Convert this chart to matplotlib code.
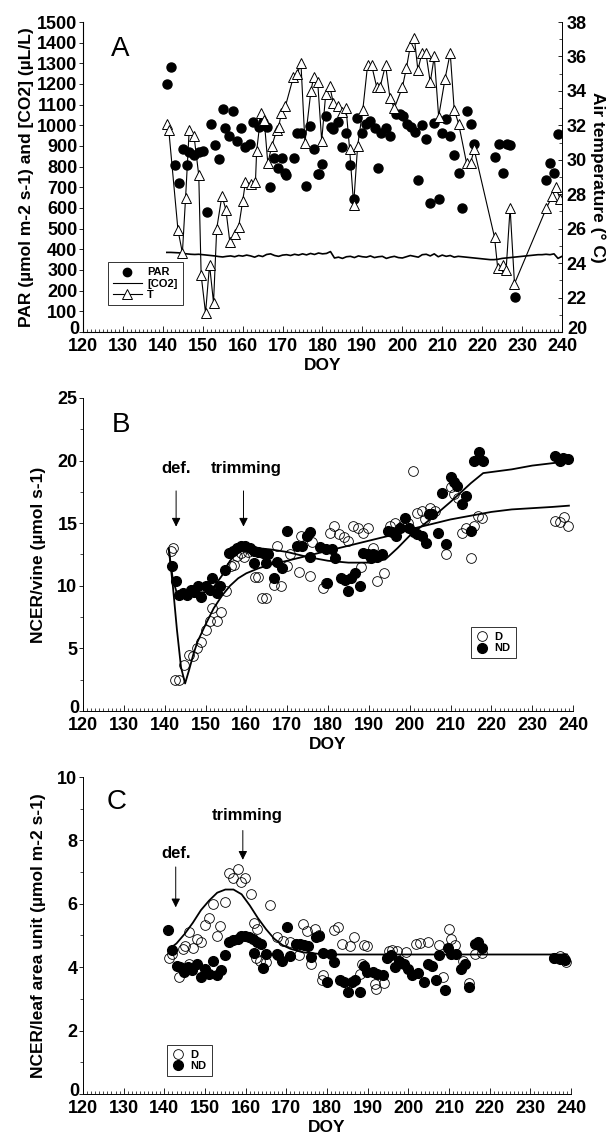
import matplotlib
matplotlib.use("Agg")
import matplotlib.pyplot as plt
from matplotlib.ticker import MultipleLocator, FuncFormatter
from matplotlib.lines import Line2D
from matplotlib.transforms import offset_copy

plt.rcParams['font.family'] = ['Liberation Sans', 'DejaVu Sans']
plt.rcParams['font.weight'] = 'bold'

# ---------------- panel A data ----------------
par_doy = [141, 142, 143, 144, 145, 146, 146.6, 147.8, 149, 150, 151, 152, 153, 154, 155,
           155.6, 156.6, 157.6, 158.5, 159.7, 160.5, 161.8, 162.6, 164, 165, 166, 166.8,
           167.8, 168.8, 169.8, 170.7, 170.9, 172.9, 173.7, 174.6, 175.8, 176.9, 177.8,
           178.8, 179, 179.8, 181, 182.1, 182.7, 183.9, 184.9, 185.9, 186.8, 187.8, 188.6,
           189.8, 190.9, 192, 193.1, 193.9, 194.6, 195.8, 196.9, 198.3, 199.5, 200.2,
           201.2, 202.1, 203.1, 203.9, 204.9, 206, 206.9, 208, 209.1, 209.9, 210.9, 212,
           213, 214.1, 215, 216.1, 217.1, 218, 223.1, 224.2, 225.2, 226.1, 227.1, 228.3,
           236.1, 237, 238, 239.1]
par_val = [1200, 1280, 810, 720, 885, 810, 870, 855, 870, 875, 580, 1005, 905, 835, 1080,
           985, 950, 1070, 925, 985, 895, 910, 1015, 990, 1015, 990, 700,
           840, 795, 840, 770, 760, 840, 965, 965, 705, 995, 885,
           765, 765, 815, 1045, 990, 980, 1015, 895, 965, 810, 645, 1035,
           965, 1005, 1020, 985, 795, 965, 985, 950, 1055, 1055, 1045,
           1005, 990, 970, 735, 1000, 935, 625, 1010, 645, 965, 1030, 950,
           855, 770, 600, 1070, 1005, 910, 845, 910, 770, 910, 905, 170,
           735, 820, 770, 960]

co2_doy = list(range(141, 241))
co2_val = [385, 385, 384, 383, 380, 378, 376, 375, 376, 374,
           372, 370, 368, 365, 363, 366, 368, 364, 370, 367,
           372, 368, 362, 370, 365, 375, 378, 370, 366, 372,
           374, 370, 376, 372, 378, 373, 380, 375, 382, 378,
           380, 389, 358, 362, 356, 364, 366, 360, 368, 364,
           362, 368, 360, 364, 366, 356, 362, 366, 360, 358,
           364, 370, 366, 362, 374, 376, 368, 378, 364, 372,
           366, 370, 362, 366, 364, 362, 360, 358, 356, 354,
           352, 350, 350, 352, 356, 358, 360, 362, 364, 366,
           368, 370, 372, 374, 374, 376, 374, 378, 356, 366]

t_doy = [141, 141.5, 143.8, 144.9, 145.7, 146.6, 147.8, 149, 149.6, 150.7, 151.7, 152.7,
         153.5, 154.8, 155.8, 156.8, 158, 159, 160, 160.7, 162.2, 163.2, 163.5, 164.6,
         165.4, 166.3, 167.3, 168.5, 169, 169.7, 170.7, 172.7, 173.7, 174.6, 175.6,
         177.1, 177.8, 178.8, 179.8, 180.8, 181.8, 182.7, 183.9, 184.9, 185.9, 186.8,
         187.8, 188.8, 190.1, 191.3, 192.3, 193.6, 194.4, 195.8, 196.9, 198, 200, 201,
         202, 203, 203.9, 204.9, 205.9, 207, 208, 209.1, 210.7, 212, 213, 214.1, 216.1,
         217.1, 218, 223.1, 223.9, 225.1, 226, 227, 228.1, 236.1, 237.6, 238.4, 239.6]
t_val = [32.1, 31.7, 25.9, 24.6, 27.8, 31.7, 31.4, 29.1, 23.3, 21.1, 23.9, 21.7,
         26.0, 27.9, 27.1, 25.2, 25.7, 26.1, 27.6, 28.7, 28.6, 28.7, 30.5, 32.7,
         32.3, 29.8, 30.8, 31.7, 31.9, 32.7, 33.1, 34.8, 35.0, 35.6, 31.0,
         34.0, 34.8, 34.5, 31.1, 33.8, 34.3, 33.3, 33.1, 32.8, 33.0, 30.6,
         27.4, 30.8, 32.9, 35.5, 35.5, 34.2, 34.2, 35.5, 33.6, 33.0, 34.2, 35.3,
         36.6, 37.1, 35.2, 36.2, 36.2, 34.5, 36.0, 32.5, 34.7, 36.2, 32.9, 32.1, 29.8,
         29.8, 30.6, 25.5, 23.7, 23.9, 23.6, 27.2, 22.8, 27.2, 27.9, 28.4, 27.7]

# ---------------- panel B data ----------------
b_nd_doy = [141.7, 142.7, 143.5, 144.5, 145.5, 146.5, 147.3, 148.2, 148.9, 150, 151, 151.7,
            152.7, 153.6, 154.8, 155.7, 156.7, 157.8, 158.8, 159.7, 161, 161.9, 161.9,
            162.9, 164.1, 164.8, 165.2, 166.7, 167.6, 168.8, 170, 172.4, 173.6, 174.8,
            175.5, 175.7, 178.1, 179.5, 179.8, 181, 181.6, 183.1, 184.1, 185, 185.7,
            186.7, 187.9, 188.6, 189.8, 190.5, 191, 192, 193.3, 194.8, 195.7, 196.7,
            197.6, 198.9, 199.8, 201, 201.9, 202.9, 204, 204.8, 205.5, 207, 207.8, 208.8,
            210, 210.8, 211.7, 212.9, 213.8, 215, 215.7, 216.9, 218, 235.5, 236.7, 237.6,
            238.8]
b_nd_val = [11.6, 10.4, 9.3, 9.4, 9.3, 9.7, 9.5, 10.0, 9.1, 10.0, 9.7, 10.6,
            9.4, 10.0, 11.3, 12.6, 12.8, 13.0, 13.2, 13.2, 13.0, 12.8, 11.8,
            12.7, 12.6, 11.8, 12.5, 10.6, 11.9, 11.4, 14.4, 13.2, 13.2, 14.0,
            14.3, 12.3, 13.1, 12.9, 10.2, 12.9, 12.2, 10.6, 10.5, 9.6, 10.6,
            11.0, 10.0, 12.6, 12.5, 12.2, 12.5, 12.3, 12.5, 14.4, 14.3, 14.0,
            14.6, 15.4, 14.6, 14.3, 14.1, 14.0, 13.4, 15.7, 15.7, 14.2, 17.4, 13.3,
            18.7, 18.3, 18.0, 16.5, 17.2, 14.4, 20.0, 20.7, 20.0, 20.4, 20.0, 20.2,
            20.1]
b_d_doy = [141.5, 142.1, 142.6, 143.5, 144.8, 146, 147, 147.9, 148.9, 150, 151, 151.7,
           152.7, 153.8, 154.9, 156.2, 157.1, 157.8, 158.8, 159.5, 160.5, 162.2, 162.9,
           163.8, 164.8, 166.7, 167.5, 168.6, 170, 170.8, 172.9, 173.3, 174.8, 175.7,
           176.2, 178.8, 179.5, 180.5, 181.4, 182.6, 183.8, 184.8, 186.2, 187.3, 188.1,
           188.6, 189.8, 191.1, 191.9, 193.8, 195.2, 196.5, 198.1, 199.5, 200.8, 201.9,
           202.9, 203.8, 205, 206.2, 208.9, 210, 210.9, 211.9, 212.9, 213.8, 215, 215.7,
           216.7, 217.6, 235.7, 236.7, 237.8, 238.8]
b_d_val = [12.8, 13.0, 2.5, 2.5, 3.7, 4.5, 4.4, 5.0, 5.5, 6.5, 7.2, 8.2,
           7.2, 7.9, 9.6, 11.6, 11.7, 12.4, 12.6, 12.3, 12.7, 10.7, 10.7,
           9.0, 9.0, 10.1, 13.2, 10.0, 11.6, 12.5, 11.1, 14.0, 14.0, 10.8,
           13.5, 9.8, 10.2, 14.2, 14.8, 14.1, 13.9, 13.6, 14.8, 14.6, 11.5,
           14.2, 14.6, 13.0, 10.4, 11.0, 14.8, 15.0, 14.8, 15.0, 19.2, 15.8,
           16.0, 15.3, 16.2, 16.0, 12.5, 17.9, 17.3, 17.0, 14.2, 14.6, 12.2, 14.8,
           15.6, 15.4, 15.2, 15.1, 15.5, 14.8]
b_fit_d_doy = [141, 142, 143, 144, 145, 146, 147, 148, 150, 152, 154, 156, 158, 160, 163,
               166, 170, 175, 180, 185, 190, 195, 200, 205, 210, 215, 220, 225, 230, 235, 239]
b_fit_d_val = [13.0, 10.0, 6.5, 3.5, 2.2, 3.3, 4.5, 5.5, 6.9, 8.2, 9.2, 10.0, 10.6, 11.0, 11.4,
               11.7, 12.0, 12.4, 12.8, 13.2, 13.6, 14.0, 14.5, 14.9, 15.3, 15.6, 15.9, 16.1,
               16.2, 16.3, 16.4]
b_fit_nd_doy = [141, 142, 143, 146, 150, 152, 154, 156, 158, 160, 163, 166, 170, 175, 180,
                185, 190, 194, 197, 200, 205, 210, 215, 218, 225, 230, 239]
b_fit_nd_val = [12.9, 10.5, 9.4, 9.4, 9.5, 9.9, 10.8, 12.0, 12.7, 12.95, 13.0, 12.9, 12.7,
                12.3, 12.0, 11.85, 11.85, 12.1, 13.0, 14.0, 15.3, 16.7, 18.2, 19.0, 19.3,
                19.6, 19.95]

# ---------------- panel C data ----------------
c_d_doy = [141.1, 142, 143.7, 144.5, 145.2, 146.1, 146.1, 147.1, 148.1, 149, 150, 150.9,
           151.9, 153, 153.8, 154.9, 155.9, 156.9, 158, 158.9, 159.8, 161.2, 162.1, 162.6,
           162.8, 163.6, 165, 166, 167.6, 169.3, 170.8, 173.2, 174.1, 175.1, 176, 177, 178,
           178.7, 179.1, 181.6, 182.7, 183.7, 185.6, 186.6, 188, 188.5, 189, 189.9, 191.8,
           192, 194, 195.2, 196.1, 197.1, 199.5, 201.9, 202.9, 204.8, 207.6, 208.6, 210,
           210.5, 211.5, 213.4, 214.8, 216.3, 218.2, 235.9, 237.3, 238.3, 238.8]
c_d_val = [4.3, 4.42, 3.68, 4.58, 4.67, 5.1, 4.1, 4.6, 4.9, 4.8, 5.34, 5.54,
           6.0, 4.97, 5.3, 6.07, 6.98, 6.82, 7.1, 6.7, 6.82, 6.32, 5.4, 4.28,
           5.2, 4.2, 4.16, 5.95, 4.94, 4.83, 4.78, 4.37, 5.36, 5.15, 4.1, 5.22, 5.0,
           3.58, 3.74, 5.18, 5.26, 4.73, 4.67, 4.94, 3.79, 4.1, 4.7, 4.66, 3.47,
           3.32, 3.5, 4.5, 4.55, 4.5, 4.47, 4.73, 4.75, 4.79, 4.7, 3.68, 5.22,
           4.9, 4.7, 4.2, 3.5, 4.4, 4.45, 4.3, 4.35, 4.3, 4.16]
c_nd_doy = [140.9, 142, 143, 143.9, 144.9, 145.9, 146.8, 148.1, 149, 150, 151.1, 151.9, 153,
            153.9, 155, 155.9, 156.9, 158, 158.9, 159.9, 160.9, 161.9, 162.1, 162.8, 163.8,
            164.3, 165, 167.6, 167.9, 168.9, 170.1, 170.8, 172.4, 173.4, 174.3, 175.3,
            176, 177.2, 178.1, 179.1, 179.9, 181.1, 181.8, 183.2, 184.2, 185.1, 186.1, 187,
            188, 189, 189.9, 191.2, 192.3, 193.8, 194.7, 195.7, 196.6, 197.6, 199, 200,
            200.9, 202.4, 203.8, 204.8, 205.9, 206.9, 207.6, 209.1, 209.7, 210.5, 211.7,
            212.9, 213.9, 214.8, 216.3, 217.2, 218.2, 235.9, 237.3, 238.5]
c_nd_val = [5.18, 4.55, 4.05, 4.0, 3.84, 4.0, 3.9, 4.1, 3.68, 3.95, 3.79, 4.21, 3.74,
            3.9, 4.37, 4.78, 4.86, 4.9, 4.99, 4.99, 4.94, 4.88, 4.44, 4.78, 4.72,
            3.97, 4.42, 4.4, 4.39, 4.19, 5.26, 4.35, 4.72, 4.72, 4.69, 4.67,
            4.32, 4.94, 4.99, 4.45, 3.53, 4.43, 4.16, 3.58, 3.53, 3.21, 3.53, 3.58,
            3.21, 4.05, 3.84, 3.84, 3.79, 3.74, 4.28, 4.37, 4.0, 4.21, 4.1, 3.95,
            3.74, 3.82, 3.53, 4.1, 4.03, 3.61, 4.37, 3.29, 4.62, 4.42, 4.42,
            3.95, 4.1, 3.37, 4.73, 4.78, 4.62, 4.3, 4.25, 4.24]
c_fit_doy = [141, 143, 145, 147, 149, 151, 153, 155, 157, 159, 161, 163, 165, 167, 169, 171,
             174, 178, 182, 239]
c_fit_val = [4.55, 4.75, 5.05, 5.4, 5.8, 6.1, 6.35, 6.45, 6.45, 6.3, 5.95, 5.55, 5.2, 4.9,
             4.7, 4.58, 4.47, 4.42, 4.4, 4.4]

TICK_FS = 13
LAB_FS = 12.5


def no_bottom_label(bottom):
    # the lowest label is drawn separately, sitting just above the x axis
    return FuncFormatter(lambda v, pos: '' if abs(v - bottom) < 1e-9 else '%g' % v)


def style_axis(ax, ymax, ymajor, yminor):
    ax.set_xlim(120, 240)
    ax.set_ylim(0, ymax)
    ax.xaxis.set_major_locator(MultipleLocator(10))
    ax.xaxis.set_minor_locator(MultipleLocator(1))
    ax.yaxis.set_major_locator(MultipleLocator(ymajor))
    ax.yaxis.set_minor_locator(MultipleLocator(yminor))
    ax.yaxis.set_major_formatter(no_bottom_label(0))
    ax.tick_params(axis='x', which='major', direction='in', length=4, width=0.6,
                   labelsize=TICK_FS, pad=4.5)
    ax.tick_params(axis='x', which='minor', direction='in', length=2, width=0.5)
    ax.tick_params(axis='y', which='major', direction='out', length=3, width=0.6,
                   labelsize=TICK_FS, pad=1)
    ax.tick_params(axis='y', which='minor', direction='out', length=2, width=0.5)
    for lab in ax.get_xticklabels() + ax.get_yticklabels():
        lab.set_fontweight('bold')
    ax.text(-0.008, 0.0, '0', transform=offset_copy(ax.transAxes, fig, y=-2, units='dots'),
            ha='right', va='baseline', fontsize=TICK_FS, fontweight='bold')
    ax.spines['top'].set_visible(False)
    ax.spines['right'].set_visible(False)
    for s in ('left', 'bottom'):
        ax.spines[s].set_linewidth(0.7)
    ax.set_xlabel('DOY', fontsize=LAB_FS, fontweight='bold', labelpad=2)


def small_legend(ax, handles, labels, **kw):
    leg = ax.legend(handles, labels, fontsize=8, frameon=True, fancybox=False,
                    edgecolor='black', handletextpad=0.5, borderpad=0.45,
                    labelspacing=0.1, **kw)
    leg.get_frame().set_linewidth(0.7)
    for t in leg.get_texts():
        t.set_fontweight('bold')
    return leg


fig = plt.figure(figsize=(6.09, 11.4), dpi=100)

# ---------------- Panel A ----------------
axA = fig.add_axes([0.1363, 0.7088, 0.7865, 0.2719])
style_axis(axA, 1500, 100, 100)
axA.plot(co2_doy, co2_val, color='black', lw=1.2)
axA.plot(par_doy, par_val, 'o', color='black', ms=6.5, ls='none')
axA.set_ylabel('PAR (µmol m-2 s-1) and [CO2] (µL/L)', fontsize=LAB_FS,
               fontweight='bold', labelpad=2)
axA.text(129.3, 1335, 'A', fontsize=20, fontweight='normal', ha='center')

axT = axA.twinx()
axT.set_ylim(20, 38)
axT.yaxis.set_major_locator(MultipleLocator(2))
axT.yaxis.set_minor_locator(MultipleLocator(1))
axT.yaxis.set_major_formatter(no_bottom_label(20))
axT.tick_params(axis='y', which='major', direction='in', length=3, width=0.6,
                labelsize=TICK_FS, pad=3)
axT.tick_params(axis='y', which='minor', direction='in', length=2, width=0.5)
for lab in axT.get_yticklabels():
    lab.set_fontweight('bold')
axT.text(1.012, 0.0, '20', transform=offset_copy(axT.transAxes, fig, y=-2, units='dots'),
         ha='left', va='baseline', fontsize=TICK_FS, fontweight='bold')
axT.spines['top'].set_visible(False)
axT.spines['right'].set_linewidth(0.7)
axT.plot(t_doy, t_val, color='black', lw=0.8, marker='^', ms=7.5,
         mfc='white', mec='black', mew=0.7)
axT.set_ylabel('Air temperature (° C)', fontsize=LAB_FS, fontweight='bold',
               rotation=270, labelpad=14)

handles = [Line2D([], [], marker='o', color='black', ls='none', ms=6),
           Line2D([], [], color='black', lw=0.8),
           Line2D([], [], color='black', lw=0.8, marker='^', ms=7, mfc='white', mew=0.7)]
small_legend(axT, handles, ['PAR', '[CO2]', 'T'], loc='lower left',
             bbox_to_anchor=(0.04, 0.07), handlelength=2.6)

# ---------------- Panel B ----------------
axB = fig.add_axes([0.1363, 0.3763, 0.8046, 0.2746])
style_axis(axB, 25, 5, 2.5)
axB.plot(b_fit_d_doy, b_fit_d_val, color='black', lw=1.3)
axB.plot(b_fit_nd_doy, b_fit_nd_val, color='black', lw=1.3)
axB.plot(b_d_doy, b_d_val, 'o', ms=7, mfc='none', mec='black', mew=0.6, ls='none')
axB.plot(b_nd_doy, b_nd_val, 'o', ms=7, color='black', ls='none')
axB.set_ylabel('NCER/vine (µmol s-1)', fontsize=LAB_FS, fontweight='bold', labelpad=8)
axB.text(129.3, 22.3, 'B', fontsize=20, fontweight='normal', ha='center')
arrow = dict(arrowstyle='-|>', lw=0.7, color='black', mutation_scale=13)
axB.annotate('', xy=(142.8, 14.5), xytext=(142.8, 17.8), arrowprops=arrow)
axB.annotate('', xy=(159.3, 14.5), xytext=(159.3, 17.8), arrowprops=arrow)
axB.text(142.8, 19.0, 'def.', fontsize=12, fontweight='bold', ha='center')
axB.text(160, 19.0, 'trimming', fontsize=12, fontweight='bold', ha='center')
handles = [Line2D([], [], marker='o', mfc='none', mec='black', mew=0.6, ls='none', ms=7),
           Line2D([], [], marker='o', color='black', ls='none', ms=7)]
small_legend(axB, handles, ['D', 'ND'], loc='upper left',
             bbox_to_anchor=(0.78, 0.285), handlelength=1.2)

# ---------------- Panel C ----------------
axC = fig.add_axes([0.1363, 0.0404, 0.8013, 0.278])
style_axis(axC, 10, 2, 1)
axC.plot(c_fit_doy, c_fit_val, color='black', lw=1.3)
axC.plot(c_d_doy, c_d_val, 'o', ms=7, mfc='none', mec='black', mew=0.6, ls='none')
axC.plot(c_nd_doy, c_nd_val, 'o', ms=7, color='black', ls='none')
axC.set_ylabel('NCER/leaf area unit (µmol m-2 s-1)', fontsize=LAB_FS,
               fontweight='bold', labelpad=8)
axC.text(128.2, 9.0, 'C', fontsize=20, fontweight='normal', ha='center')
axC.annotate('', xy=(142.8, 5.8), xytext=(142.8, 7.25), arrowprops=arrow)
axC.annotate('', xy=(159.3, 7.3), xytext=(159.3, 8.4), arrowprops=arrow)
axC.text(142.8, 7.45, 'def.', fontsize=12, fontweight='bold', ha='center')
axC.text(160.3, 8.65, 'trimming', fontsize=12, fontweight='bold', ha='center')
small_legend(axC, handles, ['D', 'ND'], loc='lower left',
             bbox_to_anchor=(0.16, 0.04), handlelength=1.2)

fig.savefig('out.png', dpi=100)
